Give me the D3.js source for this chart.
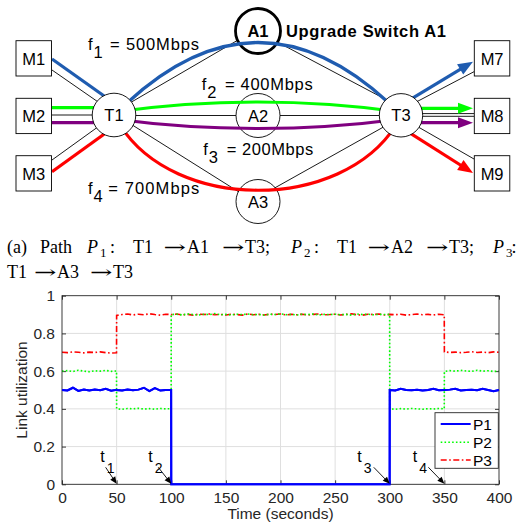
<!DOCTYPE html>
<html>
<head>
<meta charset="utf-8">
<script src="https://d3js.org/d3.v7.min.js"></script>
<style>
  html, body { margin: 0; padding: 0; background: #fff; }
  svg { display: block; }
</style>
</head>
<body>
<svg id="fig" width="516" height="523"></svg>
<script>
// ---------------- DATA ----------------
const seriesNames = ["P1", "P2", "P3"];
const times = [0,5,10,15,20,25,30,35,40,45,49.9,
  50,55,60,65,70,75,80,85,90,95,99.9,
  100,105,110,115,120,125,130,135,140,145,150,155,160,165,170,175,180,185,190,195,
  200,205,210,215,220,225,230,235,240,245,250,255,260,265,270,275,280,285,290,295,299.9,
  300,305,310,315,320,325,330,335,340,345,349.9,
  350,355,360,365,370,375,380,385,390,395,400];
const p1Values = [0.500,0.498,0.512,0.495,0.502,0.497,0.503,0.499,0.506,0.496,0.501,
  0.500,0.497,0.503,0.499,0.502,0.512,0.494,0.510,0.497,0.500,0.500,
  0,0,0,0,0,0,0,0,0,0,0,0,0,0,0,0,0,0,0,0,
  0,0,0,0,0,0,0,0,0,0,0,0,0,0,0,0,0,0,0,0,0,
  0.500,0.498,0.507,0.500,0.499,0.501,0.497,0.500,0.506,0.499,0.500,
  0.500,0.502,0.507,0.498,0.500,0.501,0.499,0.506,0.500,0.494,0.500];
const p2Values = [0.600,0.603,0.598,0.605,0.600,0.597,0.602,0.600,0.604,0.599,0.601,
  0.400,0.398,0.402,0.400,0.403,0.399,0.401,0.398,0.402,0.400,0.401,
  0.900,0.902,0.898,0.903,0.900,0.897,0.902,0.900,0.905,0.899,
  0.901,0.898,0.902,0.900,0.903,0.899,0.901,0.897,0.902,0.900,
  0.904,0.899,0.901,0.898,0.902,0.900,0.903,0.898,0.901,0.900,
  0.902,0.899,0.901,0.897,0.903,0.900,0.902,0.899,0.901,0.900,0.901,
  0.400,0.398,0.401,0.399,0.402,0.400,0.398,0.401,0.399,0.402,0.400,
  0.598,0.603,0.600,0.604,0.601,0.599,0.605,0.600,0.602,0.598,0.601];
const p3Values = [0.700,0.698,0.702,0.700,0.697,0.701,0.699,0.702,0.698,0.696,0.697,
  0.895,0.900,0.903,0.898,0.902,0.899,0.904,0.900,0.897,0.902,0.900,
  0.899,0.903,0.898,0.901,0.897,0.902,0.900,0.903,0.899,0.901,
  0.898,0.902,0.900,0.897,0.903,0.899,0.901,0.898,0.902,0.900,
  0.903,0.898,0.901,0.899,0.902,0.897,0.901,0.903,0.899,0.900,
  0.902,0.898,0.901,0.904,0.899,0.897,0.902,0.900,0.903,0.898,0.901,
  0.901,0.899,0.902,0.897,0.900,0.903,0.899,0.901,0.898,0.902,0.899,
  0.702,0.699,0.701,0.698,0.700,0.703,0.699,0.701,0.698,0.702,0.700];
const xTicks = [0,50,100,150,200,250,300,350,400];
const xTickLabels = ["0","50","100","150","200","250","300","350","400"];
const yTicks = [0,0.2,0.4,0.6,0.8,1];
const yTickLabels = ["0","0.2","0.4","0.6","0.8","1"];
const eventTimes = [50,100,300,350];
const eventLabels = ["1","2","3","4"];
const flowLabels = ["1","2","3","4"];
const flowRates = ["500Mbps","400Mbps","200Mbps","700Mbps"];

// ---------------- SETUP ----------------
const svg = d3.select("#fig");
const SANS = "'Liberation Sans', Arial, Helvetica, sans-serif";
const SERIF = "'Liberation Serif', 'Times New Roman', serif";
const INK = "#262626";

// ================= DIAGRAM =================
const dg = svg.append("g");
const cBlue = "#1f5cb0", cGreen = "#00ff00", cPurple = "#800080", cRed = "#ff0000";

function seg(g, x1, y1, x2, y2, color, w) {
  g.append("line").attr("x1", x1).attr("y1", y1).attr("x2", x2).attr("y2", y2)
    .attr("stroke", color).attr("stroke-width", w);
}
function arrow(g, x1, y1, x2, y2, color, w, len, half) {
  const dx = x2 - x1, dy = y2 - y1, L = Math.hypot(dx, dy);
  const ux = dx / L, uy = dy / L;
  const bx = x2 - ux * len, by = y2 - uy * len;
  seg(g, x1, y1, bx + ux * 1, by + uy * 1, color, w);
  g.append("path")
    .attr("d", `M${x2},${y2}L${bx - uy * half},${by + ux * half}L${bx + uy * half},${by - ux * half}Z`)
    .attr("fill", color);
}

// thin black links
const thinW = 0.9;
seg(dg, 52, 70, 114, 113, "#000", thinW);
seg(dg, 52, 115, 114, 115, "#000", thinW);
seg(dg, 52, 160, 114, 115.3, "#000", thinW);
seg(dg, 114, 112.2, 258, 28.4, "#000", thinW);
seg(dg, 114, 115.5, 401, 115.5, "#000", thinW);
seg(dg, 114, 113.5, 258, 204, "#000", thinW);
seg(dg, 258, 31.8, 401, 107.5, "#000", thinW);
seg(dg, 258, 197.3, 401, 117.2, "#000", thinW);
seg(dg, 401, 110, 474, 71.7, "#000", thinW);
seg(dg, 401, 113.6, 474, 113.6, "#000", thinW);
seg(dg, 401, 116.3, 474, 116.3, "#000", thinW);
seg(dg, 401, 117.1, 474, 159, "#000", thinW);

// A switches
const aNodes = [
  {x: 258, y: 31, r: 22.5, label: "A1", bold: true},
  {x: 258, y: 115.5, r: 22, label: "A2", bold: false},
  {x: 258, y: 201.5, r: 22, label: "A3", bold: false}
];
aNodes.forEach(n => {
  dg.append("circle").attr("cx", n.x).attr("cy", n.y).attr("r", n.r)
    .attr("fill", "#fff").attr("stroke", "#000").attr("stroke-width", n.bold ? 2.8 : 0.9);
});

// colored flows
const cw = 3.2;
seg(dg, 52, 59, 114, 103, cBlue, cw);
seg(dg, 52, 107.7, 114, 107.7, cGreen, cw);
seg(dg, 52, 122.7, 114, 122.7, cPurple, cw);
seg(dg, 52, 171.7, 114, 127, cRed, cw);
dg.append("path").attr("d", "M127,103 Q258,-18 389,103").attr("fill", "none").attr("stroke", cBlue).attr("stroke-width", cw);
dg.append("path").attr("d", "M114,112 Q258,92 401,112").attr("fill", "none").attr("stroke", cGreen).attr("stroke-width", cw);
dg.append("path").attr("d", "M114,119 Q258,138 401,119").attr("fill", "none").attr("stroke", cPurple).attr("stroke-width", cw);
dg.append("path").attr("d", "M120,125 C175,212 341,212 396,125").attr("fill", "none").attr("stroke", cRed).attr("stroke-width", cw);
arrow(dg, 401, 105.1, 473, 61.7, cBlue, cw, 15, 6);
arrow(dg, 401, 108.3, 473, 108.3, cGreen, cw, 15, 5.5);
arrow(dg, 401, 122.7, 473, 122.7, cPurple, cw, 15, 5.5);
arrow(dg, 401, 127.4, 473, 173, cRed, cw, 15, 6);

// T switches
const tNodes = [{x: 114, y: 115, r: 21.8, label: "T1"}, {x: 401, y: 115.3, r: 21.7, label: "T3"}];
tNodes.forEach(n => {
  dg.append("circle").attr("cx", n.x).attr("cy", n.y).attr("r", n.r)
    .attr("fill", "#fff").attr("stroke", "#000").attr("stroke-width", 0.9);
});
aNodes.concat(tNodes).forEach(n => {
  dg.append("text").attr("x", n.x).attr("y", n.y + 6).attr("text-anchor", "middle")
    .attr("font-family", SANS).attr("font-size", 16.5)
    .attr("font-weight", n.bold ? "bold" : "normal").attr("fill", "#000").text(n.label);
});
// hosts
const boxes = [
  {x: 16, y: 40.7, label: "M1"}, {x: 16, y: 98.3, label: "M2"}, {x: 16, y: 155.7, label: "M3"},
  {x: 474.3, y: 40.7, label: "M7"}, {x: 474.3, y: 98.3, label: "M8"}, {x: 474.3, y: 155.7, label: "M9"}
];
boxes.forEach(b => {
  dg.append("rect").attr("x", b.x).attr("y", b.y).attr("width", 35.5).attr("height", 35.3)
    .attr("fill", "#fff").attr("stroke", "#000").attr("stroke-width", 0.9);
  dg.append("text").attr("x", b.x + 17.8).attr("y", b.y + 24).attr("text-anchor", "middle")
    .attr("font-family", SANS).attr("font-size", 16.5).attr("fill", "#000").text(b.label);
});
// flow labels
const flowPos = [
  {fx: 88, fy: 50, ex: 110, ew: 89},
  {fx: 201.7, fy: 90, ex: 225, ew: 87.7},
  {fx: 203.3, fy: 155, ex: 226.7, ew: 86.6},
  {fx: 88, fy: 194.4, ex: 108.3, ew: 91}
];
flowPos.forEach((p, i) => {
  const t = dg.append("text").attr("font-family", SANS).attr("font-size", 16.5).attr("fill", "#000");
  t.append("tspan").attr("x", p.fx).attr("y", p.fy).text("f");
  t.append("tspan").attr("x", p.fx + 5.5).attr("y", p.fy + 7.5).text(flowLabels[i]);
  dg.append("text").attr("x", p.ex).attr("y", p.fy).attr("font-family", SANS).attr("font-size", 16.5)
    .attr("textLength", p.ew).attr("lengthAdjust", "spacing").attr("fill", "#000")
    .text("= " + flowRates[i]);
});
dg.append("text").attr("x", 286).attr("y", 36.7).attr("font-family", SANS).attr("font-size", 16.5)
  .attr("font-weight", "bold").attr("textLength", 160).attr("lengthAdjust", "spacing")
  .text("Upgrade Switch A1");

// ================= CAPTION =================
const cap = svg.append("g").attr("font-family", SERIF).attr("font-size", 18).attr("fill", "#000");
function capTok(x, y, s, opts = {}) {
  const t = cap.append("text").attr("x", x).attr("y", y).text(s);
  if (opts.italic) t.attr("font-style", "italic");
  if (opts.size) t.attr("font-size", opts.size);
  return t;
}
function capArrow(x, y) {
  cap.append("text").attr("x", x).attr("y", y).attr("font-family", "'DejaVu Serif', 'DejaVu Sans', serif")
    .attr("font-size", 17).attr("textLength", 22.5).attr("lengthAdjust", "spacingAndGlyphs").text("\u2192");
}
const b1 = 253.3, b2 = 278.3;
capTok(7, b1, "(a)");
capTok(40, b1, "Path");
capTok(87, b1, "P", {italic: true});
capTok(100, b1 + 4, "1", {size: 13});
capTok(110, b1, ":");
capTok(133, b1, "T1");
capArrow(163.5, b1); capTok(187, b1, "A1");
capArrow(222, b1); capTok(245, b1, "T3;");
capTok(291, b1, "P", {italic: true});
capTok(304, b1 + 4, "2", {size: 13});
capTok(314, b1, ":");
capTok(337, b1, "T1");
capArrow(367.5, b1); capTok(391, b1, "A2");
capArrow(426, b1); capTok(449, b1, "T3;");
capTok(493, b1, "P", {italic: true});
capTok(506, b1 + 4, "3", {size: 13});
capTok(511.5, b1, ":");
capTok(7, b2, "T1");
capArrow(34, b2); capTok(57, b2, "A3");
capArrow(90, b2); capTok(113, b2, "T3");

// ================= CHART =================
const x = d3.scaleLinear().domain([0, 400]).range([62, 499]);
const y = d3.scaleLinear().domain([0, 1]).range([484.3, 295.7]);
const ch = svg.append("g");

// grid
ch.append("g").selectAll("line").data(xTicks.slice(1, -1)).join("line")
  .attr("x1", d => x(d)).attr("x2", d => x(d)).attr("y1", y(0)).attr("y2", y(1))
  .attr("stroke", "#dfdfdf").attr("stroke-width", 1);
ch.append("g").selectAll("line").data(yTicks.slice(1, -1)).join("line")
  .attr("x1", x(0)).attr("x2", x(400)).attr("y1", d => y(d)).attr("y2", d => y(d))
  .attr("stroke", "#dfdfdf").attr("stroke-width", 1);

function styleAxis(g) {
  g.select(".domain").remove();
  g.selectAll("line").attr("stroke", INK).attr("stroke-width", 0.9);
  g.selectAll("text").attr("font-family", SANS).attr("font-size", 15.5).attr("fill", INK);
}
ch.append("g").attr("transform", `translate(0,${y(0)})`)
  .call(d3.axisBottom(x).tickValues(xTicks).tickFormat((d, i) => xTickLabels[i]).tickSize(-4).tickPadding(7.7))
  .call(styleAxis);
ch.append("g").attr("transform", `translate(0,${y(1)})`)
  .call(d3.axisTop(x).tickValues(xTicks).tickFormat("").tickSize(-4))
  .call(styleAxis);
ch.append("g").attr("transform", `translate(${x(0)},0)`)
  .call(d3.axisLeft(y).tickValues(yTicks).tickFormat((d, i) => yTickLabels[i]).tickSize(-4).tickPadding(7))
  .call(styleAxis);
ch.append("g").attr("transform", `translate(${x(400)},0)`)
  .call(d3.axisRight(y).tickValues(yTicks).tickFormat("").tickSize(-4))
  .call(styleAxis);

// series
const series = [
  {name: seriesNames[0], values: p1Values, color: "#0000ff", dash: null, w: 2},
  {name: seriesNames[1], values: p2Values, color: "#00ff00", dash: "1.6,2.2", w: 1.6},
  {name: seriesNames[2], values: p3Values, color: "#ff0000", dash: "6,2.5,1.6,2.5", w: 1.6}
];
const line = d3.line().x((d, i) => x(times[i])).y(d => y(d));
[series[2], series[1], series[0]].forEach(s => {
  ch.append("path").datum(s.values).attr("d", line)
    .attr("fill", "none").attr("stroke", s.color).attr("stroke-width", s.w)
    .attr("stroke-dasharray", s.dash);
});

ch.append("rect").attr("x", x(0)).attr("y", y(1)).attr("width", x(400) - x(0)).attr("height", y(0) - y(1))
  .attr("fill", "none").attr("stroke", INK).attr("stroke-width", 0.9);
ch.append("path").datum(p1Values).attr("d", line).attr("fill", "none")
  .attr("stroke", "#0000ff").attr("stroke-width", 2);

// event annotations
const evOff = [{tx: -16.5, ax: -11}, {tx: -23, ax: -13}, {tx: -32.5, ax: -16}, {tx: -31.7, ax: -16}];
eventTimes.forEach((t, i) => {
  const px = x(t), py = y(0);
  const o = evOff[i];
  const tt = ch.append("text").attr("font-family", SANS).attr("font-size", 16).attr("fill", "#000");
  tt.append("tspan").attr("x", px + o.tx).attr("y", py - 22.6).text("t");
  tt.append("tspan").attr("x", px + o.tx + 6.5).attr("y", py - 11).attr("font-size", 14).text(eventLabels[i]);
  arrow(ch, px + o.ax, py - 17, px, py - 0.5, "#000", 0.9, 7, 3);
});

// axis titles
ch.append("text").attr("transform", `translate(27,${(y(0) + y(1)) / 2}) rotate(-90)`)
  .attr("text-anchor", "middle").attr("font-family", SANS).attr("font-size", 15.5).attr("fill", INK)
  .text("Link utilization");
ch.append("text").attr("x", (x(0) + x(400)) / 2).attr("y", 518.5)
  .attr("text-anchor", "middle").attr("font-family", SANS).attr("font-size", 15.5).attr("fill", INK)
  .text("Time (seconds)");

// legend
const lg = ch.append("g");
lg.append("rect").attr("x", 435).attr("y", 412.7).attr("width", 63.3).attr("height", 55.6)
  .attr("fill", "#fff").attr("stroke", INK).attr("stroke-width", 0.9);
const legY = [424, 442.3, 460];
series.forEach((s, i) => {
  lg.append("line").attr("x1", 440.7).attr("x2", 470.7).attr("y1", legY[i]).attr("y2", legY[i])
    .attr("stroke", s.color).attr("stroke-width", s.w).attr("stroke-dasharray", s.dash);
  lg.append("text").attr("x", 473).attr("y", legY[i] + 5.5).attr("font-family", SANS)
    .attr("font-size", 15.5).attr("fill", "#000").text(s.name);
});
</script>
</body>
</html>
